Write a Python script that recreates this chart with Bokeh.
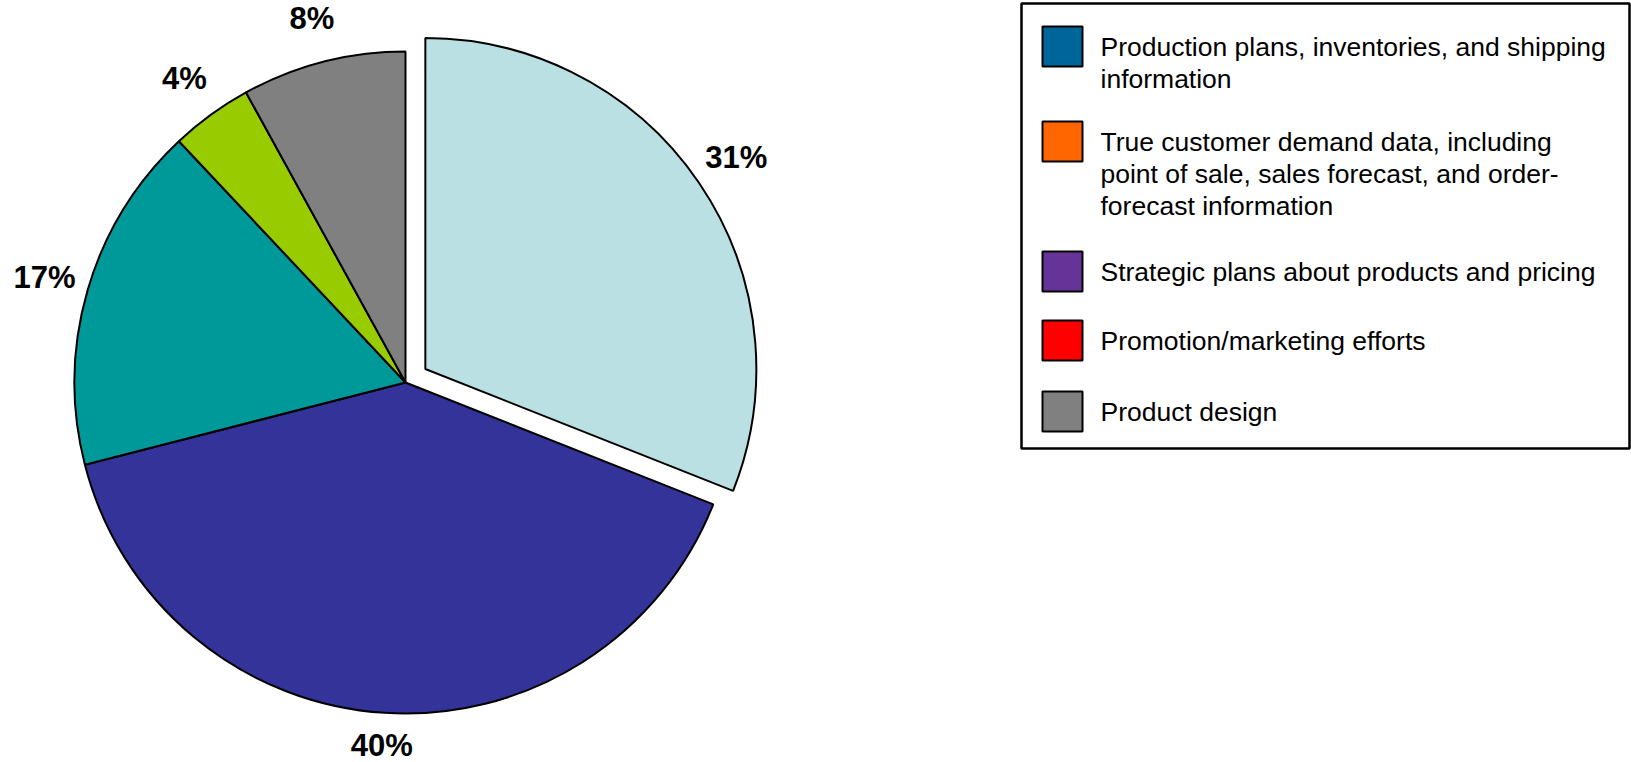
import numpy as np
from bokeh.plotting import figure
from bokeh.models import Range1d, ColumnDataSource
from bokeh.core.properties import value
from bokeh.embed import file_html
from bokeh.resources import INLINE

# ---- data ----
shares = [31, 40, 17, 4, 8]
slice_colors = ["#BBE0E3", "#333399", "#009999", "#99CC00", "#808080"]
exploded = [True, False, False, False, False]
pct_labels = [f"{v}%" for v in shares]

legend_labels = [
    "Production plans, inventories, and shipping\ninformation",
    "True customer demand data, including\npoint of sale, sales forecast, and order-\nforecast information",
    "Strategic plans about products and pricing",
    "Promotion/marketing efforts",
    "Product design",
]
legend_colors = ["#006699", "#FF6600", "#663399", "#FF0000", "#808080"]

# ---- layout ----
W, H = 1631, 762
FONT = "Liberation Sans"

p = figure(width=W, height=H, x_range=Range1d(0, W), y_range=Range1d(0, H),
           output_backend="svg", toolbar_location=None, min_border=0)
p.axis.visible = False
p.grid.visible = False
p.outline_line_color = None
p.background_fill_color = "white"
p.border_fill_color = "white"

cx, cy = 405, H - 382
R = 331
EXPLODE = 24
LABEL_R = 376
LABEL_MIN_Y = 17  # keep labels inside the canvas

vals = np.array(shares, dtype=float)
frac = vals / vals.sum()
cum = np.concatenate([[0.0], np.cumsum(frac)])
start = np.pi / 2 - 2 * np.pi * cum[:-1]
end = np.pi / 2 - 2 * np.pi * cum[1:]
mid = (start + end) / 2
off = np.where(exploded, EXPLODE, 0)
xs = cx + off * np.cos(mid)
ys = cy + off * np.sin(mid)
lx = xs + LABEL_R * np.cos(mid)
ly = np.maximum(ys + LABEL_R * np.sin(mid), LABEL_MIN_Y)

src = ColumnDataSource(dict(x=xs, y=ys, start=start, end=end, color=slice_colors,
                            lx=lx, ly=ly, label=pct_labels))
p.wedge(x="x", y="y", radius=R, start_angle="start", end_angle="end",
        direction="clock", fill_color="color", line_color="black", line_width=2,
        source=src)
p.text(x="lx", y="ly", text="label", source=src, text_align="center",
       text_baseline="middle", text_font=value(FONT), text_font_style="bold",
       text_font_size="31px", text_color="black")

# ---- legend ----
BOX_L, BOX_R, BOX_T, BOX_B = 1021, 1629, 3, 448
p.quad(left=[BOX_L], right=[BOX_R], top=[H - BOX_T], bottom=[H - BOX_B],
       fill_color=None, line_color="black", line_width=2.5)

ITEM_Y = [46, 141, 271, 340, 411]
LINE_H = 32
SW_X0, SW = 1042, 40
TX = 1100
sw_l, sw_r, sw_t, sw_b = [], [], [], []
tx, ty, tt = [], [], []
for lab, yc in zip(legend_labels, ITEM_Y):
    sw_l.append(SW_X0)
    sw_r.append(SW_X0 + SW)
    sw_t.append(H - (yc - SW / 2))
    sw_b.append(H - (yc + SW / 2))
    for k, line in enumerate(lab.split("\n")):
        tx.append(TX)
        ty.append(H - (yc + k * LINE_H))
        tt.append(line)
p.quad(left=sw_l, right=sw_r, top=sw_t, bottom=sw_b, fill_color=legend_colors,
       line_color="black", line_width=2)
p.text(x=tx, y=ty, text=tt, text_align="left", text_baseline="middle",
       text_font=value(FONT), text_font_size="26.5px", text_color="black")

open("out.html", "w").write(file_html(p, INLINE))
